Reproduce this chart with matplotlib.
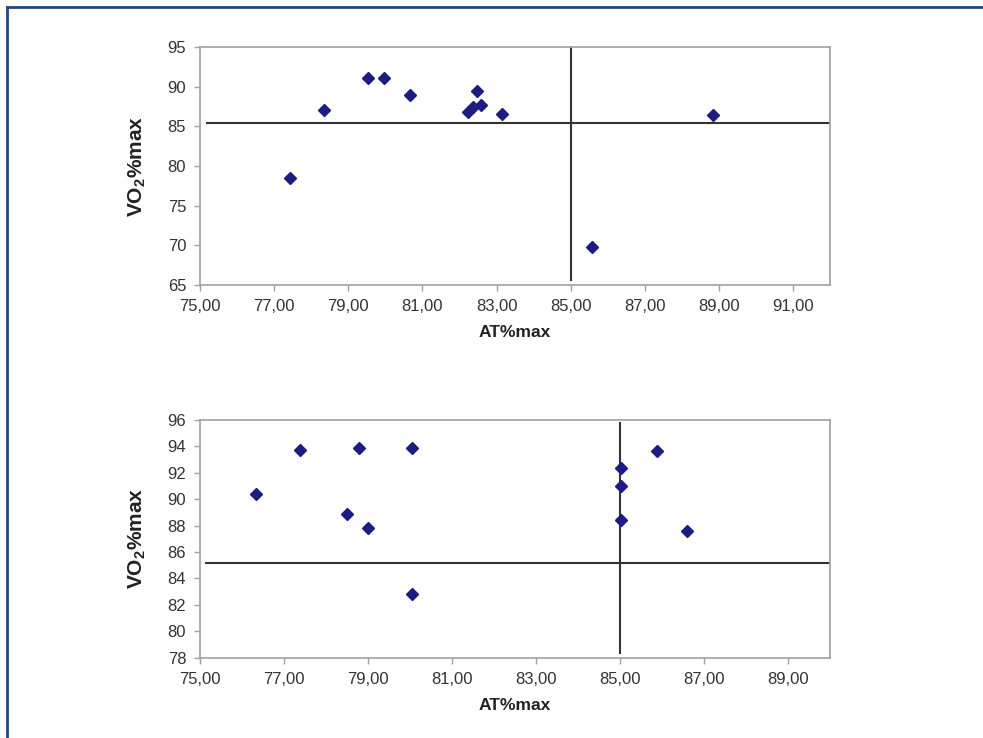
import numpy as np
import matplotlib
matplotlib.use("Agg")
from matplotlib import pyplot as plt
from matplotlib.lines import Line2D
from matplotlib.ticker import FuncFormatter

# upper panel
top_at = [77.42, 78.34, 79.53, 79.97, 80.67, 82.23, 82.37, 82.58, 82.48, 83.15, 85.59, 88.83]
top_vo2 = [78.5, 87.05, 91.05, 91.05, 88.95, 86.75, 87.45, 87.7, 89.5, 86.55, 69.8, 86.4]
top_hline_x = [75.2, 92.0]
top_hline_y = [85.45, 85.45]
top_vline_x = [85.0, 85.0]
top_vline_y = [65.6, 95.0]

# lower panel
bot_at = [76.34, 77.38, 78.78, 80.04, 78.5, 79.0, 80.04, 85.03, 85.03, 85.03, 85.87, 86.59]
bot_vo2 = [90.37, 93.73, 93.9, 93.9, 88.88, 87.84, 82.8, 92.34, 91.0, 88.42, 93.67, 87.6]
bot_hline_x = [75.15, 90.0]
bot_hline_y = [85.15, 85.15]
bot_vline_x = [85.0, 85.0]
bot_vline_y = [78.35, 95.8]


def comma(v, pos):
    return ("%.2f" % v).replace(".", ",")


def style(ax, xlim, ylim, xticks, yticks):
    ax.set_xlim(*xlim)
    ax.set_ylim(*ylim)
    ax.set_xticks(xticks)
    ax.set_yticks(yticks)
    ax.xaxis.set_major_formatter(FuncFormatter(comma))
    for s in ax.spines.values():
        s.set_color("#a0a0a0")
        s.set_linewidth(1.2)
    ax.tick_params(direction="out", length=4, width=1, color="#a0a0a0",
                   labelsize=12, labelcolor="#333333", pad=6)
    ax.set_xlabel("AT%max", fontsize=12.5, fontweight="bold", color="#222222", labelpad=8)
    ax.set_ylabel(r"VO$_\mathbf{2}$%max", fontsize=15, fontweight="bold",
                  color="#222222", labelpad=14)


plt.rcParams["font.family"] = ["Liberation Sans", "DejaVu Sans"]
plt.rcParams["mathtext.fontset"] = "custom"
plt.rcParams["mathtext.rm"] = "Liberation Sans"
plt.rcParams["mathtext.bf"] = "Liberation Sans:bold"

fig = plt.figure(figsize=(9.83, 7.38), dpi=100)

ax1 = fig.add_axes([0.2035, 0.6138, 0.6409, 0.3225])
ax1.plot(top_hline_x, top_hline_y, color="#333333", lw=1.5)
ax1.plot(top_vline_x, top_vline_y, color="#333333", lw=1.5)
ax1.plot(top_at, top_vo2, "D", color="#1c1c82", markersize=6, linestyle="none")
style(ax1, (75, 92), (65, 95), np.arange(75, 92, 2), np.arange(65, 96, 5))

ax2 = fig.add_axes([0.2035, 0.1088, 0.6409, 0.3221])
ax2.plot(bot_hline_x, bot_hline_y, color="#333333", lw=1.5)
ax2.plot(bot_vline_x, bot_vline_y, color="#333333", lw=1.5)
ax2.plot(bot_at, bot_vo2, "D", color="#1c1c82", markersize=6, linestyle="none")
style(ax2, (75, 90), (78, 96), np.arange(75, 90, 2), np.arange(78, 97, 2))

# page frame, top and left edges only
fig.add_artist(Line2D([0.0075, 1.0], [0.9905, 0.9905], color="#1f4a7a", lw=2))
fig.add_artist(Line2D([0.0075, 0.0075], [0.0, 0.9905], color="#1f4a7a", lw=2))

fig.savefig("out.png", dpi=100)
